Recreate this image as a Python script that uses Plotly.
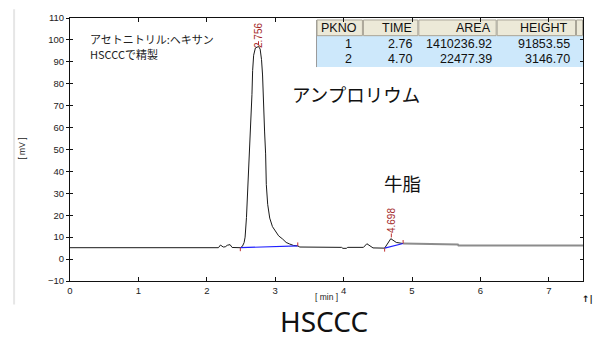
import plotly.graph_objects as go

# ---------------- data ----------------
time_min = [0.0, 2.17, 2.20, 2.24, 2.27, 2.30, 2.34, 2.37, 2.49, 2.52, 2.545, 2.56, 2.58,
            2.60, 2.625, 2.645, 2.66, 2.67, 2.685, 2.71, 2.756, 2.78, 2.80, 2.815, 2.825,
            2.845, 2.86, 2.87, 2.89, 2.92, 2.96, 3.00, 3.05, 3.11, 3.16, 3.21, 3.27, 3.33,
            3.36, 3.97, 3.99, 4.04, 4.06, 4.29, 4.34, 4.43, 4.60, 4.69, 4.77, 4.87,
            5.16, 5.17, 5.67, 5.68, 7.5]
signal_mv = [5.2, 5.2, 6.4, 5.5, 5.6, 6.3, 6.6, 5.3, 5.2, 5.8, 7.5, 10.0, 19.0,
             32.0, 48.0, 62.0, 75.0, 86.0, 93.0, 96.3, 97.0, 95.8, 91.0, 84.0, 71.0,
             58.0, 48.0, 34.0, 25.0, 18.7, 14.8, 12.8, 10.6, 9.1, 7.6, 6.9, 6.2, 6.0,
             5.5, 5.35, 4.9, 4.9, 5.35, 5.35, 7.0, 5.1, 5.0, 9.3, 7.6, 7.1,
             7.0, 6.7, 6.7, 6.2, 6.2]
gray_from_t = 4.87

peak_times = [2.756, 4.698]
peak_apex = [97.0, 9.3]
peak_label_shift = [11, 18]

base_start_t = [2.49, 4.60]
base_start_v = [5.2, 5.0]
base_end_t = [3.33, 4.87]
base_end_v = [6.0, 7.1]

table_headers = ["PKNO", "TIME", "AREA", "HEIGHT"]
pk_no = [1, 2]
pk_time = [2.76, 4.70]
pk_area = [1410236.92, 22477.39]
pk_height = [91853.55, 3146.70]

# ---------------- layout geometry ----------------
W, H = 596, 339
L, R, T, B = 70, 584, 13, 281


def px(x):
    return (x - L) / (R - L)


def py(y):
    return (B - y) / (B - T)


fig = go.Figure()

# chromatogram trace
i_g = next(i for i, t in enumerate(time_min) if t >= gray_from_t)
fig.add_trace(go.Scatter(x=time_min[:i_g + 1], y=signal_mv[:i_g + 1], mode="lines",
                         line=dict(color="#1a1a1a", width=1), hoverinfo="skip", showlegend=False))
fig.add_trace(go.Scatter(x=time_min[i_g:], y=signal_mv[i_g:], mode="lines",
                         line=dict(color="#8c8c8c", width=2), hoverinfo="skip", showlegend=False))

# blue baselines
bx, by = [], []
for t0, v0, t1, v1 in zip(base_start_t, base_start_v, base_end_t, base_end_v):
    bx += [t0, t1, None]
    by += [v0, v1, None]
fig.add_trace(go.Scatter(x=bx, y=by, mode="lines", line=dict(color="#1f1fff", width=1.2),
                         hoverinfo="skip", showlegend=False))

# red start/end markers and apex ticks
rx, ry = [], []
for t0, v0, t1, v1 in zip(base_start_t, base_start_v, base_end_t, base_end_v):
    rx += [t0, t0, None, t1, t1, None]
    ry += [v0, v0 - 1.6, None, v1, v1 + 1.6, None]
for t, a in zip(peak_times, peak_apex):
    rx += [t, t, None]
    ry += [a + 0.6, a + 2.4, None]
fig.add_trace(go.Scatter(x=rx, y=ry, mode="lines", line=dict(color="#c03030", width=1),
                         hoverinfo="skip", showlegend=False))

# dummy traces so the extra tick axes are drawn
fig.add_trace(go.Scatter(x=[None], y=[None], yaxis="y2", showlegend=False, hoverinfo="skip"))
fig.add_trace(go.Scatter(x=[None], y=[None], yaxis="y3", showlegend=False, hoverinfo="skip"))

annotations = []
shapes = []

# peak labels
for t, a, s in zip(peak_times, peak_apex, peak_label_shift):
    annotations.append(dict(x=t, y=a, xref="x", yref="y", text=f"{t:.3f}", showarrow=False,
                            textangle=-90, yshift=s, xanchor="center", yanchor="middle",
                            font=dict(family="Liberation Sans", size=10, color="#a52a2a")))

# ---------------- table ----------------
col_edges = [317, 363.5, 419, 497.5, 577, 584]
row_edges = [15, 31, 47, 63]
hdr_pad = [4, 4, 4, 6]
cell_pad = [9, 4, 3, 4]
rows = [[str(n), f"{t:.2f}", f"{a:.2f}", f"{h:.2f}"]
        for n, t, a, h in zip(pk_no, pk_time, pk_area, pk_height)]

# data rows background
shapes.append(dict(type="rect", xref="paper", yref="paper", layer="below",
                   x0=px(col_edges[0]), x1=px(col_edges[-1]),
                   y0=py(row_edges[-1]), y1=py(row_edges[1]),
                   fillcolor="#cde8fb", line=dict(width=0)))
shapes.append(dict(type="line", xref="paper", yref="paper", layer="below",
                   x0=px(col_edges[0]), x1=px(col_edges[0]),
                   y0=py(row_edges[-1]), y1=py(row_edges[0]),
                   line=dict(color="#9a9a9a", width=1)))
# header cells
for c in range(len(col_edges) - 1):
    shapes.append(dict(type="rect", xref="paper", yref="paper", layer="below",
                       x0=px(col_edges[c] + 0.5), x1=px(col_edges[c + 1] - 0.5),
                       y0=py(row_edges[1]), y1=py(row_edges[0]),
                       fillcolor="#ece9d8", line=dict(color="#a8a496", width=1)))
tfont = dict(family="Liberation Sans", size=12.5, color="#111111")
for c, hname in enumerate(table_headers):
    annotations.append(dict(x=px(col_edges[c + 1] - hdr_pad[c]),
                            y=py((row_edges[0] + row_edges[1]) / 2),
                            xref="paper", yref="paper", text=hname, showarrow=False,
                            xanchor="right", yanchor="middle", font=tfont))
for r, row in enumerate(rows):
    for c, val in enumerate(row):
        annotations.append(dict(x=px(col_edges[c + 1] - cell_pad[c]),
                                y=py((row_edges[r + 1] + row_edges[r + 2]) / 2),
                                xref="paper", yref="paper", text=val, showarrow=False,
                                xanchor="right", yanchor="middle", font=tfont))

# ---------------- text labels ----------------
jp = "Noto Sans CJK JP"
annotations += [
    dict(x=px(88), y=py(34), text="アセトニトリル:ヘキサン", xanchor="left", yanchor="middle",
         font=dict(family=jp, size=11, color="#222")),
    dict(x=px(88), y=py(50), text="HSCCCで精製", xanchor="left", yanchor="middle",
         font=dict(family=jp, size=11, color="#222")),
    dict(x=px(290), y=py(90), text="アンプロリウム", xanchor="left", yanchor="middle",
         font=dict(family=jp, size=18.5, color="#111")),
    dict(x=px(383), y=py(181), text="牛脂", xanchor="left", yanchor="middle",
         font=dict(family=jp, size=18.5, color="#111")),
    dict(x=px(324), y=py(322), text="HSCCC", xanchor="center", yanchor="middle",
         borderpad=0, font=dict(family="Noto Sans", size=28, color="#111")),
    dict(x=px(21), y=py(146), text="[ mV ]", textangle=-90, xanchor="center", yanchor="middle",
         font=dict(family="Liberation Sans", size=8.5, color="#222")),
    dict(x=px(327), y=py(297), text="[ min ]", xanchor="center", yanchor="middle",
         font=dict(family="Liberation Sans", size=8.5, color="#222")),
    dict(x=px(589), y=py(299), text="<b>↑|</b>", xanchor="center", yanchor="middle",
         font=dict(family="DejaVu Sans", size=9, color="#111")),
]
for a in annotations:
    a.setdefault("xref", "paper")
    a.setdefault("yref", "paper")
    a.setdefault("showarrow", False)

# window border line at the left
shapes.append(dict(type="line", xref="paper", yref="paper", x0=px(14), x1=px(14),
                   y0=py(4), y1=py(305), line=dict(color="#e6e6e6", width=2)))

axis_font = dict(family="Liberation Sans", size=9.5, color="#222")
fig.update_layout(
    width=W, height=H,
    margin=dict(l=L, r=W - R, t=T, b=H - B),
    paper_bgcolor="white", plot_bgcolor="white",
    showlegend=False,
    xaxis=dict(range=[0, 7.5], dtick=1, tick0=0, showgrid=False, zeroline=False,
               showline=True, linecolor="#111", linewidth=1.3, mirror="ticks",
               ticks="inside", ticklen=3.5, tickcolor="#111", tickfont=axis_font),
    yaxis=dict(range=[-10, 110], dtick=10, tick0=0, showgrid=False, zeroline=False,
               showline=True, linecolor="#111", linewidth=1, mirror=True,
               ticks="outside", ticklen=3, tickcolor="#111", tickfont=axis_font),
    yaxis2=dict(range=[-10, 110], dtick=10, tick0=0, overlaying="y", side="right",
                anchor="x", showgrid=False, zeroline=False, showline=False,
                ticks="inside", ticklen=3, tickcolor="#111", showticklabels=False),
    yaxis3=dict(range=[-10, 110], dtick=10, tick0=0, overlaying="y", side="left",
                anchor="x", showgrid=False, zeroline=False, showline=False,
                ticks="inside", ticklen=3, tickcolor="#111", showticklabels=False),
    annotations=annotations,
    shapes=shapes,
)

fig.write_html("out.html", config={"displayModeBar": False},
               post_script="document.body.style.margin='0';document.body.style.padding='0';")
